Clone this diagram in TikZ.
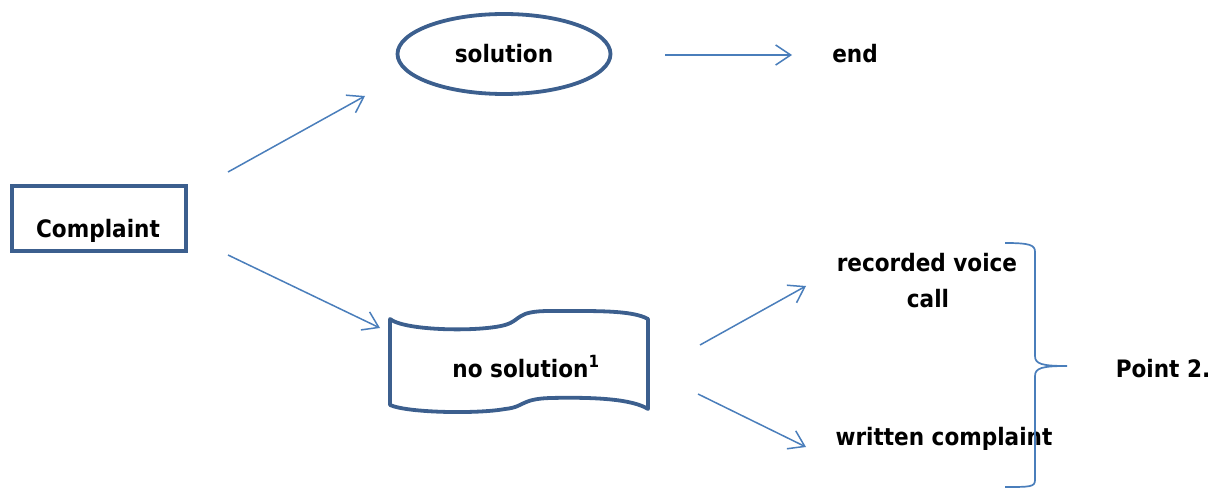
\documentclass[tikz,border=0pt]{standalone}
\usepackage{fontspec}
\setmainfont{DejaVu Sans Condensed}
\usetikzlibrary{arrows.meta,shapes.geometric}
\definecolor{shapeblue}{RGB}{60,95,142}
\definecolor{arrowblue}{RGB}{74,126,187}
\begin{document}
\begin{tikzpicture}[x=1pt,y=-1pt,
  shapeline/.style={draw=shapeblue,line width=3.8pt},
  txt/.style={font=\fontsize{24}{28}\selectfont\bfseries,inner sep=0pt,anchor=base},
  conn/.style={draw=arrowblue,line width=1.5pt,-{Straight Barb[length=15pt,width=20pt,line width=1.5pt]}},
  bracestyle/.style={draw=arrowblue,line width=1.7pt},
]
\useasboundingbox (0,0) rectangle (1229,489);

% shapes
\node[shapeline,rectangle,minimum width=174pt,minimum height=65pt,inner sep=0pt] (complaint) at (99,218.5) {};
\node[txt] (complainttext) at (98,237) {Complaint};

\node[shapeline,ellipse,minimum width=213pt,minimum height=80pt,inner sep=0pt] (solution) at (504,54) {};
\node[txt] (solutiontext) at (504,63) {solution};

\node[txt] (end) at (855,63) {end};

\draw[shapeline,line join=round] (390,319)
  .. controls (405,331) and (480,332) .. (505,325)
  .. controls (522,320) and (515,311) .. (550,311)
  .. controls (595,311) and (632,310) .. (648,319)
  -- (648,409)
  .. controls (632,399) and (595,397) .. (550,398)
  .. controls (520,399) and (525,407) .. (505,409)
  .. controls (478,414) and (408,413) .. (390,405)
  -- cycle;
\node[txt] (nosol) at (526,377) {no solution\textsuperscript{1}};

\node[txt] (recorded) at (927,272) {recorded voice};
\node[txt] (call) at (928,307) {call};
\node[txt] (written) at (944,445) {written complaint};
\node[txt] (point) at (1163,377) {Point 2.};

% connector end points
\coordinate (c1s) at (228,172);
\coordinate (c1e) at (365,96);
\coordinate (c2s) at (228,255);
\coordinate (c2e) at (380,328);
\coordinate (c3s) at (665,55);
\coordinate (c3e) at (792,55);
\coordinate (c4s) at (700,345);
\coordinate (c4e) at (806,286);
\coordinate (c5s) at (698,394);
\coordinate (c5e) at (806,447);

\draw[conn] (c1s) -- (c1e);
\draw[conn] (c2s) -- (c2e);
\draw[conn] (c3s) -- (c3e);
\draw[conn] (c4s) -- (c4e);
\draw[conn] (c5s) -- (c5e);

% brace
\coordinate (btop) at (1005,243);
\coordinate (btip) at (1067,366);
\coordinate (bbot) at (1005,487);
\draw[bracestyle] (btop) .. controls (1030,243) and (1035,245) .. (1035,252)
  -- (1035,356) .. controls (1035,364) and (1042,366) .. (btip)
  .. controls (1042,366) and (1035,368) .. (1035,376)
  -- (1035,480) .. controls (1035,487) and (1030,487) .. (bbot);
\end{tikzpicture}
\end{document}
